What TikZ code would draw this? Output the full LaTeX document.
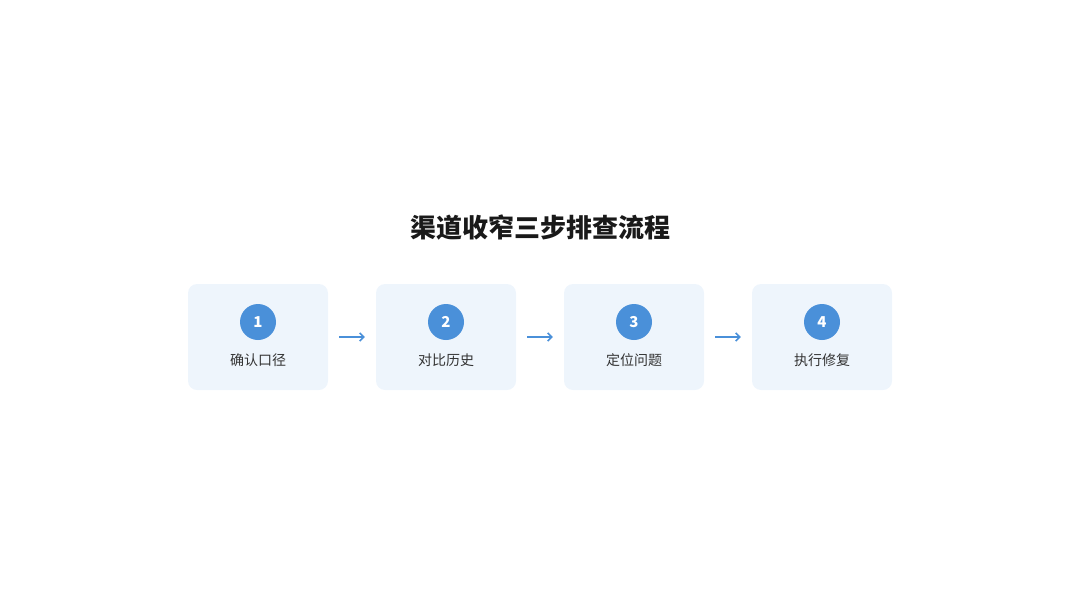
\documentclass[tikz,border=0pt]{standalone}
\usepackage{fontspec}
\newfontfamily\cjk{Noto Sans CJK SC}
\newfontfamily\cjkb{Noto Sans CJK SC Bold}
\usetikzlibrary{arrows.meta}
\definecolor{boxbg}{HTML}{EEF5FC}
\definecolor{accent}{HTML}{4A90D9}
\definecolor{txt}{HTML}{333333}
\begin{document}
\begin{tikzpicture}[x=1pt,y=-1pt,
  box/.style={fill=boxbg,rounded corners=9pt,minimum width=140pt,minimum height=106pt,draw=none},
  num/.style={circle,fill=accent,minimum size=36pt,inner sep=0pt,text=white,font=\cjk\bfseries\fontsize{15}{15}\selectfont},
  lab/.style={text=txt,font=\cjk\fontsize{14}{14}\selectfont},
  arr/.style={draw=accent,line width=1.6pt,-{Straight Barb[length=4pt,width=8pt]}}]
\useasboundingbox (0,0) rectangle (1080,600);
\node[font=\cjk\bfseries\fontsize{26}{26}\selectfont,text=black!90] (title) at (540,228) {渠道收窄三步排查流程};
\foreach \i/\x/\t in {1/258/确认口径,2/446/对比历史,3/634/定位问题,4/822/执行修复}{
  \node[box] (b\i) at (\x,337) {};
  \node[num] (n\i) at (\x,322) {\i};
  \node[lab] (l\i) at (\x,360) {\t};
}
\foreach \a/\b in {1/2,2/3,3/4}{
  \coordinate (s\a) at ([xshift=11pt]b\a.east);
  \coordinate (e\a) at ([xshift=-11pt]b\b.west);
  \draw[arr] (s\a) -- (e\a);
}
\end{tikzpicture}
\end{document}
